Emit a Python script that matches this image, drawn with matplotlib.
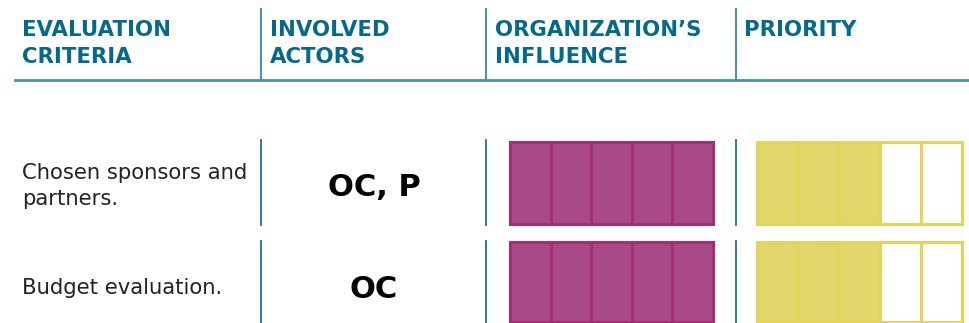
import matplotlib
matplotlib.use("Agg")
import matplotlib.pyplot as plt

headers = ["EVALUATION\nCRITERIA", "INVOLVED\nACTORS", "ORGANIZATION’S\nINFLUENCE", "PRIORITY"]
criteria = ["Chosen sponsors and\npartners.", "Budget evaluation."]
actors = ["OC, P", "OC"]
influence = [5, 5]
priority = [3, 3]
max_score = 5

TEAL = "#046a8c"
LINE = "#4a8fae"
PINK_F = "#a84a86"
PINK_E = "#a52f72"
YEL_F = "#e2d76a"
YEL_E = "#e3d55a"

fig = plt.figure(figsize=(9.69, 3.23), dpi=100)
ax = fig.add_axes([0, 0, 1, 1])
ax.set_xlim(0, 969)
ax.set_ylim(323, 0)
ax.axis("off")

col_x = [22, 270, 495, 744]
sep_x = [261, 486, 736]

# header
for x, h in zip(col_x, headers):
    ax.text(x, 20, h, fontsize=15.3, fontweight="bold", color=TEAL,
            family="DejaVu Sans", va="top", ha="left", linespacing=1.46)
for x in sep_x:
    ax.plot([x, x], [9, 80], color=LINE, lw=1.5)
ax.plot([15, 969], [80, 80], color=LINE, lw=2)

rows = [(140, 225), (241, 323)]
bar_rows = [(142, 224), (242, 322)]
text_y = [186, 288]
actor_y = [187, 289]
for r, ((y0, y1), (b0, b1)) in enumerate(zip(rows, bar_rows)):
    for x in sep_x:
        ax.plot([x, x], [y0, y1], color="#1b6f93", lw=1.3)
    ax.text(22, text_y[r], criteria[r], fontsize=15.2, color="#222222",
            family="DejaVu Sans", va="center", ha="left", linespacing=1.4)
    ax.text(374, actor_y[r], actors[r], fontsize=22, fontweight="heavy", color="black",
            family="DejaVu Sans", va="center", ha="center")
    h = b1 - b0
    # influence cells
    w1 = (713 - 510) / max_score
    lefts = [510 + i * w1 for i in range(max_score)]
    fills = [PINK_F if i < influence[r] else "white" for i in range(max_score)]
    ax.bar(lefts, [h] * max_score, width=w1, bottom=b0, align="edge",
           color=fills, edgecolor=PINK_E, linewidth=2.2)
    # priority cells
    w2 = (962 - 757) / max_score
    lefts = [757 + i * w2 for i in range(max_score)]
    fills = [YEL_F if i < priority[r] else "white" for i in range(max_score)]
    ax.bar(lefts, [h] * max_score, width=w2, bottom=b0, align="edge",
           color=fills, edgecolor=YEL_E, linewidth=2.2)

fig.savefig("out.png", dpi=100)
